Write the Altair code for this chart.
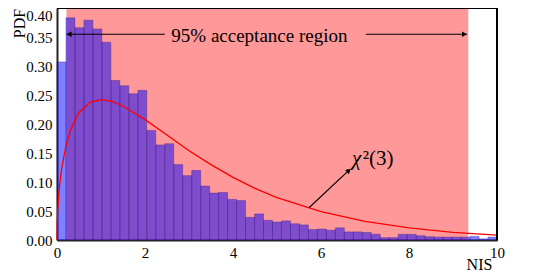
import altair as alt
import pandas as pd

FONT = "Liberation Serif"

# ---- data ----
nis_range = [0.0, 10.0]
pdf_range = [0.0, 0.4]
n_bins = 49
bin_heights = [0.307, 0.383, 0.366, 0.379, 0.364, 0.341, 0.275, 0.266, 0.252, 0.258,
               0.189, 0.164, 0.166, 0.130, 0.111, 0.120, 0.093, 0.081, 0.082, 0.070,
               0.068, 0.039, 0.045, 0.034, 0.031, 0.033, 0.028, 0.026, 0.018, 0.019,
               0.017, 0.021, 0.014, 0.014, 0.013, 0.010, 0.004, 0.004, 0.0098, 0.0098,
               0.0074, 0.0057, 0.005, 0.005, 0.005, 0.005, 0.0063, 0.002, 0.005]

curve_x = [0, 0.005, 0.01, 0.02, 0.05, 0.1, 0.2, 0.3, 0.5, 0.75, 1.0, 1.25, 1.5, 2.0,
           2.5, 3.0, 3.5, 4.0, 4.5, 5.0, 6.0, 7.0, 8.0, 9.0, 10.0]
curve_y = [0, 0.028, 0.040, 0.056, 0.087, 0.120, 0.161, 0.188, 0.220, 0.2375, 0.242,
           0.239, 0.231, 0.2075, 0.181, 0.154, 0.130, 0.108, 0.089, 0.073, 0.049,
           0.032, 0.021, 0.013, 0.0085]

accept_region = [0.216, 9.348]
y_ticks = [0.0, 0.05, 0.10, 0.15, 0.20, 0.25, 0.30, 0.35, 0.40]
x_ticks = [0, 2, 4, 6, 8, 10]

# annotation anchors (data coordinates)
band_label = "95% acceptance region"
band_label_pos = [4.60, 0.341]
band_arrow_y = 0.3547
left_arrow = [2.45, 0.22]      # from, tip
right_arrow = [7.02, 9.318]    # from, tip
left_head_x = 0.275
right_head_x = 9.26
chi_arrow_start = [5.727, 0.0557]
chi_arrow_head = [6.632, 0.120]
chi_label_chi = [6.705, 0.1293]
chi_label_rest = [6.95, 0.1293]

# ---- tables ----
w = (nis_range[1] - nis_range[0]) / n_bins
bars = pd.DataFrame({
    "x0": [nis_range[0] + i * w for i in range(n_bins)],
    "x1": [nis_range[0] + (i + 1) * w for i in range(n_bins)],
    "h": bin_heights,
})
curve = pd.DataFrame({"x": curve_x, "y": curve_y})
region = pd.DataFrame({"x0": [accept_region[0]], "x1": [accept_region[1]],
                       "y0": [pdf_range[0]], "y1": [pdf_range[1]]})
# top and right edges of the frame
frame = pd.DataFrame({"x0": [nis_range[0], nis_range[1]],
                      "x1": [nis_range[1], nis_range[1]],
                      "y0": [pdf_range[1], pdf_range[0]],
                      "y1": [pdf_range[1], pdf_range[1]]})
arrows = pd.DataFrame({
    "x0": [left_arrow[0], right_arrow[0], chi_arrow_start[0]],
    "x1": [left_arrow[1], right_arrow[1], chi_arrow_head[0]],
    "y0": [band_arrow_y, band_arrow_y, chi_arrow_start[1]],
    "y1": [band_arrow_y, band_arrow_y, chi_arrow_head[1]],
})
heads = pd.DataFrame({
    "x": [left_head_x, right_head_x, chi_arrow_head[0]],
    "y": [band_arrow_y, band_arrow_y, chi_arrow_head[1]],
    "shape": ["triangle-left", "triangle-right", "triangle-up"],
    "angle": [0, 0, 47],
})

xscale = alt.Scale(domain=nis_range, nice=False, zero=False)
yscale = alt.Scale(domain=pdf_range, nice=False)

xaxis = alt.Axis(values=x_ticks, format="d", labelFont=FONT, labelFontSize=15,
                 labelColor="black", labelFlush=False, labelOverlap=False, ticks=False,
                 grid=False, labelPadding=5, domainColor="#222", domainWidth=2,
                 title="NIS", titleFont=FONT, titleFontSize=16, titleFontWeight="normal",
                 titleColor="black", titleX=422, titleY=32, titleAlign="center",
                 titleBaseline="bottom", titleAnchor="start")
yaxis = alt.Axis(values=y_ticks, format=".2f", labelFont=FONT, labelFontSize=15,
                 labelColor="black", labelFlush=False, labelOverlap=False, ticks=False,
                 grid=False, labelPadding=5, domainColor="#222", domainWidth=2,
                 labelBaseline={"condition": {"test": "datum.value >= 0.39", "value": "top"},
                                "value": "middle"},
                 title="PDF", titleFont=FONT, titleFontSize=16, titleFontWeight="normal",
                 titleColor="black", titleX=-46, titleY=15, titleAlign="center",
                 titleBaseline="top", titleAngle=270, titleAnchor="start")


def X(field):
    return alt.X(field, scale=xscale, axis=xaxis)


def Y(field):
    return alt.Y(field, scale=yscale, axis=yaxis)


base_region = alt.Chart(region).mark_rect(color="red", opacity=0.4).encode(
    x=X("x0:Q"), x2="x1:Q", y=Y("y0:Q"), y2="y1:Q",
)

bar_layer = alt.Chart(bars).mark_rect(fill="blue", fillOpacity=0.5, stroke="#3a1d86",
                                      strokeOpacity=0.35, strokeWidth=1).encode(
    x=X("x0:Q"), x2="x1:Q", y=Y("h:Q"), y2=alt.datum(0)
)

curve_layer = alt.Chart(curve).mark_line(color="red", strokeWidth=1.3).encode(
    x=X("x:Q"), y=Y("y:Q")
)

arrow_layer = alt.Chart(arrows).mark_rule(color="black", strokeWidth=1.2).encode(
    x=X("x0:Q"), x2="x1:Q", y=Y("y0:Q"), y2="y1:Q"
)

head_layer = alt.Chart(heads).mark_point(filled=True, color="black", size=32, opacity=1).encode(
    x=X("x:Q"), y=Y("y:Q"),
    shape=alt.Shape("shape:N", scale=None, legend=None),
    angle=alt.Angle("angle:Q", scale=None),
)

frame_layer = alt.Chart(frame).mark_rule(color="black", strokeWidth=2).encode(
    x=X("x0:Q"), x2="x1:Q", y=Y("y0:Q"), y2="y1:Q",
)

band_text = alt.Chart(pd.DataFrame({"x": [band_label_pos[0]], "y": [band_label_pos[1]],
                                    "t": [band_label]})).mark_text(
    font=FONT, fontSize=19, color="black", align="center", baseline="alphabetic"
).encode(x=X("x:Q"), y=Y("y:Q"), text="t:N")

chi_text = alt.Chart(pd.DataFrame({"x": [chi_label_chi[0]], "y": [chi_label_chi[1]],
                                   "t": ["χ"]})).mark_text(
    font=FONT, fontSize=21, fontStyle="italic", color="black", align="left",
    baseline="alphabetic"
).encode(x=X("x:Q"), y=Y("y:Q"), text="t:N")

rest_text = alt.Chart(pd.DataFrame({"x": [chi_label_rest[0]], "y": [chi_label_rest[1]],
                                    "t": ["²(3)"]})).mark_text(
    font=FONT, fontSize=21, color="black", align="left", baseline="alphabetic"
).encode(x=X("x:Q"), y=Y("y:Q"), text="t:N")

chart = alt.layer(
    base_region, bar_layer, curve_layer, arrow_layer, head_layer, frame_layer,
    band_text, chi_text, rest_text
).properties(
    width=440, height=232,
    autosize=alt.AutoSizeParams(type="none"),
    padding={"left": 49, "top": 0, "right": 35, "bottom": 32},
).configure(
    background="white", font=FONT
).configure_view(
    stroke="black", strokeWidth=1
).configure_axis(
    labelFont=FONT, titleFont=FONT, labelFontSize=15, labelOverlap=False,
    labelColor="black"
)

chart.save("out.html", embed_options={"renderer": "svg", "actions": False})
